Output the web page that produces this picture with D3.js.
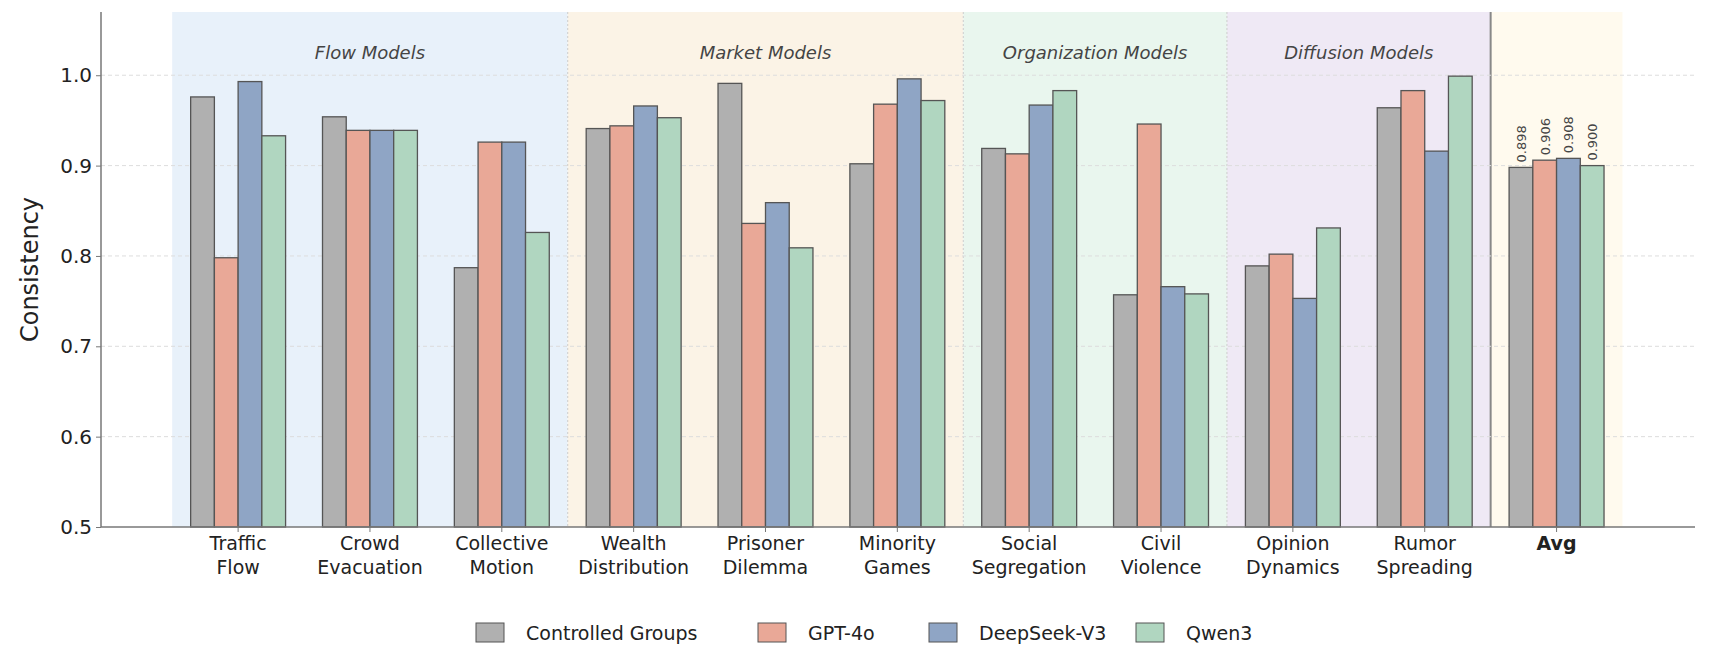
<!DOCTYPE html>
<html lang="en">
<head>
<meta charset="UTF-8">
<script src="https://d3js.org/d3.v7.min.js"></script>
<style>
  body { margin: 0; background: #fff; }
  text { font-family: "DejaVu Sans", sans-serif; fill: #222; }
</style>
</head>
<body>
<svg id="chart" width="1714" height="660"></svg>
<script>
// categories + series values
var categories = [["Traffic","Flow"],["Crowd","Evacuation"],["Collective","Motion"],["Wealth","Distribution"],["Prisoner","Dilemma"],["Minority","Games"],["Social","Segregation"],["Civil","Violence"],["Opinion","Dynamics"],["Rumor","Spreading"],["Avg"]];
var seriesNames = ["Controlled Groups","GPT-4o","DeepSeek-V3","Qwen3"];
var seriesColors = ["#b0b0b0","#e9a897","#8fa5c5","#b0d6c0"];
var controlled = [0.976,0.954,0.787,0.941,0.991,0.902,0.919,0.757,0.789,0.964,0.898];
var gpt4o      = [0.798,0.939,0.926,0.944,0.836,0.968,0.913,0.946,0.802,0.983,0.906];
var deepseek   = [0.993,0.939,0.926,0.966,0.859,0.996,0.967,0.766,0.753,0.916,0.908];
var qwen       = [0.933,0.939,0.826,0.953,0.809,0.972,0.983,0.758,0.831,0.999,0.900];
var yTicks = [0.5,0.6,0.7,0.8,0.9,1.0];
var groups = [
  {name:"Flow Models", from:0, to:2, color:"#e8f1fa"},
  {name:"Market Models", from:3, to:5, color:"#fbf3e6"},
  {name:"Organization Models", from:6, to:7, color:"#e9f6ee"},
  {name:"Diffusion Models", from:8, to:9, color:"#efe9f5"},
  {name:"", from:10, to:10, color:"#fffaee"}
];

var series = [controlled, gpt4o, deepseek, qwen];
var svg = d3.select("#chart");
var mLeft = 101, mRight = 1695, mTop = 12, mBottom = 527;

var x = d3.scaleLinear().domain([-1.04, 11.05]).range([mLeft, mRight]);
var y = d3.scaleLinear().domain([0.5, 1.07]).range([mBottom, mTop]);
var bw = 0.18;

// group bands
groups.forEach(function(g){
  svg.append("rect").attr("x", x(g.from - 0.5)).attr("y", mTop)
    .attr("width", x(g.to + 0.5) - x(g.from - 0.5)).attr("height", mBottom - mTop)
    .attr("fill", g.color);
  if (g.name) svg.append("text").attr("x", x((g.from + g.to) / 2)).attr("y", 59)
    .attr("text-anchor","middle").style("font-size","18px").style("font-style","italic")
    .style("fill","#444").text(g.name);
});
// dividers
[2.5,5.5,7.5].forEach(function(b){
  svg.append("line").attr("x1",x(b)).attr("x2",x(b)).attr("y1",mTop).attr("y2",mBottom)
    .attr("stroke","#ccc").attr("stroke-dasharray","2,2");
});
svg.append("line").attr("x1",x(9.5)).attr("x2",x(9.5)).attr("y1",mTop).attr("y2",mBottom)
  .attr("stroke","#888").attr("stroke-width",2);

// grid
yTicks.forEach(function(t){
  if (t === 0.5) return;
  svg.append("line").attr("x1",mLeft).attr("x2",mRight).attr("y1",y(t)).attr("y2",y(t))
    .attr("stroke","#ddd").attr("stroke-dasharray","4,3");
});

// bars
series.forEach(function(vals, s){
  svg.append("g").selectAll("rect").data(vals).join("rect")
    .attr("x", function(d,i){ return x(i - 2*bw + s*bw); })
    .attr("y", function(d){ return y(d); })
    .attr("width", x(bw) - x(0))
    .attr("height", function(d){ return mBottom - y(d); })
    .attr("fill", seriesColors[s]).attr("stroke","#555").attr("stroke-width",1.3);
  var v = vals[10];
  var cx = x(10 - 2*bw + s*bw + bw/2);
  svg.append("text").attr("transform","translate(" + (cx + 5) + "," + (y(v) - 5) + ") rotate(-90)")
    .style("font-size","13px").style("fill","#444").text(v.toFixed(3));
});

// axes
var yAxis = d3.axisLeft(y).tickValues(yTicks).tickFormat(d3.format(".1f")).tickSize(5);
var ga = svg.append("g").attr("transform","translate(" + mLeft + ",0)").call(yAxis);
ga.select(".domain").attr("stroke","#777").attr("stroke-width",1.5).attr("d","M0," + mTop + "V" + mBottom);
ga.selectAll(".tick line").attr("stroke","#777");
ga.selectAll(".tick text").style("font-size","20px").attr("x",-9);
svg.append("line").attr("x1",mLeft).attr("x2",mRight).attr("y1",mBottom).attr("y2",mBottom)
  .attr("stroke","#777").attr("stroke-width",1.5);
svg.append("text").attr("transform","translate(38," + ((mTop+mBottom)/2) + ") rotate(-90)")
  .attr("text-anchor","middle").style("font-size","24px").text("Consistency");

// x tick labels
categories.forEach(function(c, i){
  svg.append("line").attr("x1",x(i)).attr("x2",x(i)).attr("y1",mBottom).attr("y2",mBottom+5).attr("stroke","#777");
  var t = svg.append("text").attr("x", x(i)).attr("y", mBottom + 23).attr("text-anchor","middle")
    .style("font-size","19px");
  c.forEach(function(line, k){
    t.append("tspan").attr("x", x(i)).attr("dy", k ? 24 : 0).text(line);
  });
  if (i === 10) t.style("font-weight","bold");
});

// legend
var lg = svg.append("g").attr("transform","translate(476,633)");
var offs = [0, 282, 453, 660];
seriesNames.forEach(function(n, s){
  var g = lg.append("g").attr("transform","translate(" + offs[s] + ",0)");
  g.append("rect").attr("x",0).attr("y",-10).attr("width",28).attr("height",19)
    .attr("fill",seriesColors[s]).attr("stroke","#555");
  g.append("text").attr("x",50).attr("y",7).style("font-size","19px").text(n);
});
</script>
</body>
</html>
